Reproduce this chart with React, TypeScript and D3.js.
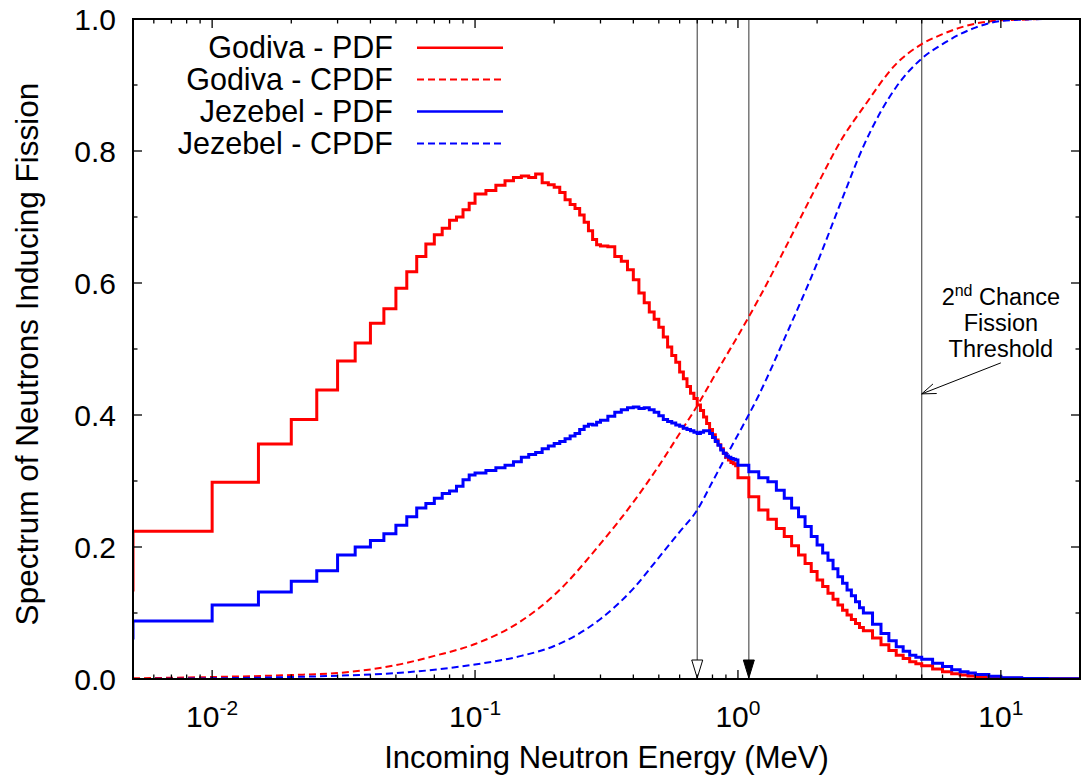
import React from "react";
import * as d3 from "d3";

// ---------- data ----------
// lower bin edges (MeV) of the fission-inducing spectra; last bin ends at binEnd
const binEdges = [
  0.004, 0.005, 0.01, 0.015, 0.02, 0.025, 0.03, 0.035, 0.04, 0.045, 0.05, 0.055, 0.06, 0.065, 0.07, 0.075, 0.08, 0.085, 0.09, 0.095,
  0.10, 0.11, 0.12, 0.13, 0.14, 0.15, 0.16, 0.17, 0.18, 0.19, 0.20, 0.21, 0.22, 0.23, 0.24, 0.25, 0.26, 0.27, 0.28, 0.29,
  0.30, 0.32, 0.34, 0.36, 0.38, 0.40, 0.42, 0.44, 0.46, 0.48, 0.50, 0.52, 0.54, 0.56, 0.58, 0.60, 0.62, 0.64, 0.66, 0.68,
  0.70, 0.72, 0.74, 0.76, 0.78, 0.80, 0.82, 0.84, 0.86, 0.88, 0.90, 0.92, 0.94, 0.96, 0.98,
  1.0, 1.1, 1.2, 1.3, 1.4, 1.5, 1.6, 1.7, 1.8, 1.9, 2.0, 2.1, 2.2, 2.3, 2.4, 2.5, 2.6, 2.7, 2.8, 2.9,
  3.0, 3.25, 3.5, 3.75, 4.0, 4.25, 4.5, 4.75,
  5.0, 5.5, 6.0, 6.5, 7.0, 7.5, 8.0, 9.0, 10, 12, 15,
];
const binEnd = 20;

const godivaPdf = [
  0.135, 0.224, 0.298, 0.356, 0.393, 0.438, 0.482, 0.509, 0.539, 0.561, 0.592, 0.617, 0.640, 0.659, 0.673, 0.683, 0.695, 0.700, 0.711, 0.721,
  0.735, 0.740, 0.748, 0.755, 0.760, 0.762, 0.760, 0.765, 0.752, 0.749, 0.745, 0.737, 0.726, 0.719, 0.713, 0.703, 0.692, 0.679, 0.666, 0.658,
  0.656, 0.655, 0.640, 0.633, 0.620, 0.605, 0.585, 0.570, 0.556, 0.545, 0.533, 0.518, 0.503, 0.490, 0.480, 0.465, 0.455, 0.443, 0.433, 0.425,
  0.415, 0.407, 0.397, 0.387, 0.378, 0.370, 0.362, 0.355, 0.349, 0.342, 0.336, 0.332, 0.328, 0.326, 0.323,
  0.305, 0.276, 0.256, 0.242, 0.228, 0.216, 0.202, 0.188, 0.175, 0.163, 0.150, 0.140, 0.130, 0.121, 0.112, 0.104, 0.097, 0.090, 0.084, 0.078,
  0.073, 0.062, 0.052, 0.043, 0.036, 0.031, 0.026, 0.023,
  0.020, 0.015, 0.011, 0.008, 0.006, 0.0045, 0.0035, 0.002, 0.001, 0.0005, 0.0002,
];

const jezebelPdf = [
  0.062, 0.088, 0.112, 0.132, 0.148, 0.164, 0.188, 0.200, 0.210, 0.220, 0.233, 0.246, 0.259, 0.266, 0.274, 0.281, 0.285, 0.292, 0.302, 0.309,
  0.312, 0.316, 0.320, 0.324, 0.329, 0.336, 0.340, 0.343, 0.349, 0.353, 0.357, 0.360, 0.364, 0.368, 0.372, 0.378, 0.383, 0.386, 0.385, 0.389,
  0.392, 0.398, 0.404, 0.408, 0.411, 0.412, 0.410, 0.411, 0.408, 0.404, 0.399, 0.393, 0.390, 0.388, 0.385, 0.383, 0.380, 0.378, 0.376, 0.374,
  0.372, 0.374, 0.376, 0.376, 0.372, 0.366, 0.360, 0.354, 0.347, 0.342, 0.338, 0.336, 0.334, 0.333, 0.332,
  0.324, 0.314, 0.305, 0.299, 0.286, 0.274, 0.259, 0.246, 0.231, 0.216, 0.203, 0.191, 0.180, 0.167, 0.155, 0.145, 0.135, 0.126, 0.117, 0.108,
  0.100, 0.083, 0.069, 0.058, 0.049, 0.042, 0.036, 0.033,
  0.030, 0.024, 0.019, 0.014, 0.011, 0.009, 0.007, 0.004, 0.002, 0.0008, 0.0003,
];

const cpdfEnergies = [0.005, 0.01, 0.02, 0.03, 0.05, 0.07, 0.1, 0.15, 0.2, 0.3, 0.4, 0.5, 0.6, 0.7, 0.8, 0.9, 1.0, 1.2, 1.5, 2, 2.5, 3, 4, 5, 6, 7, 8, 10, 12, 15, 20];
const godivaCpdf = [0.001, 0.003, 0.006, 0.009, 0.021, 0.035, 0.053, 0.088, 0.127, 0.205, 0.268, 0.323, 0.372, 0.414, 0.454, 0.489, 0.52, 0.576, 0.65, 0.748, 0.82, 0.866, 0.932, 0.962, 0.977, 0.987, 0.993, 0.998, 0.999, 1.0, 1.0];
const jezebelCpdf = [0.0, 0.001, 0.003, 0.005, 0.009, 0.014, 0.022, 0.035, 0.05, 0.091, 0.137, 0.184, 0.223, 0.256, 0.299, 0.337, 0.37, 0.43, 0.515, 0.63, 0.729, 0.807, 0.897, 0.94, 0.962, 0.977, 0.987, 0.997, 0.999, 1.0, 1.0];

const xMajorTicks = [0.01, 0.1, 1, 10];
const xTickExponents = ["-2", "-1", "0", "1"];
const yMajorTicks = [0, 0.2, 0.4, 0.6, 0.8, 1.0];
const yMinorTicks = [0.1, 0.3, 0.5, 0.7, 0.9];
const yTickLabels = ["0.0", "0.2", "0.4", "0.6", "0.8", "1.0"];

const openArrowEnergy = 0.7;
const filledArrowEnergy = 1.1;
const thresholdEnergy = 5.0;
const annotationEnergy = 10;
const annotationLines = [0.566, 0.527, 0.488];
const annotationArrowFrom = [10, 0.479];
const annotationArrowTo = [5.0, 0.432];

const legendItems = [
  { label: "Godiva - PDF", color: "#ff0000", dash: "" },
  { label: "Godiva - CPDF", color: "#ff0000", dash: "7,4" },
  { label: "Jezebel - PDF", color: "#0000ff", dash: "" },
  { label: "Jezebel - CPDF", color: "#0000ff", dash: "7,4" },
];

// ---------- layout ----------
const W = 1082;
const H = 779;
const L = 133, R = 1080, T = 19, B = 679;
const FONT = "'Liberation Sans', Arial, Helvetica, sans-serif";

export default function App() {
  const x = d3.scaleLog().domain([0.005, 20]).range([L, R]);
  const y = d3.scaleLinear().domain([0, 1]).range([B, T]);

  const stepLine = d3
    .line<[number, number]>()
    .x((d) => x(d[0]))
    .y((d) => y(d[1]))
    .curve(d3.curveStepAfter);

  const smoothLine = d3
    .line<[number, number]>()
    .x((d) => x(d[0]))
    .y((d) => y(d[1]))
    .curve(d3.curveMonotoneX);

  const stepPts = (vals: number[]): [number, number][] => {
    const pts: [number, number][] = binEdges.map((e, i) => [e, vals[i]]);
    pts.push([binEnd, vals[vals.length - 1]]);
    return pts;
  };

  const godivaStep = stepLine(stepPts(godivaPdf)) || "";
  const jezebelStep = stepLine(stepPts(jezebelPdf)) || "";
  const godivaC = smoothLine(cpdfEnergies.map((e, i) => [e, godivaCpdf[i]] as [number, number])) || "";
  const jezebelC = smoothLine(cpdfEnergies.map((e, i) => [e, jezebelCpdf[i]] as [number, number])) || "";

  const xMinor: number[] = [];
  for (let p = -3; p <= 1; p++) {
    for (let k = 2; k <= 9; k++) {
      const v = k * Math.pow(10, p);
      if (v > 0.005 && v < 20) xMinor.push(v);
    }
  }

  const majorLen = 9;
  const minorLen = 4.5;

  const arrowHead = (e: number, filled: boolean) => {
    const cx = x(e);
    const tipY = B - 1;
    const hl = 18, hw = 5.5;
    return (
      <path
        d={`M${cx},${tipY} L${cx - hw},${tipY - hl} L${cx + hw},${tipY - hl} Z`}
        fill={filled ? "#000" : "#fff"}
        stroke="#000"
        strokeWidth={1}
      />
    );
  };

  // annotation arrow
  const ax0 = x(annotationArrowFrom[0]);
  const ay0 = y(annotationArrowFrom[1]);
  const ax1 = x(annotationArrowTo[0]);
  const ay1 = y(annotationArrowTo[1]);
  const ang = Math.atan2(ay1 - ay0, ax1 - ax0);
  const hlen = 15;
  const hang = (20 * Math.PI) / 180;
  const h1 = [ax1 - hlen * Math.cos(ang - hang), ay1 - hlen * Math.sin(ang - hang)];
  const h2 = [ax1 - hlen * Math.cos(ang + hang), ay1 - hlen * Math.sin(ang + hang)];

  const legendY0 = 47.7;
  const legendDY = 31.9;

  return (
    <svg
      width={W}
      height={H}
      viewBox={`0 0 ${W} ${H}`}
      style={{ position: "absolute", left: 0, top: 0, background: "#fff" }}
      fontFamily={FONT}
    >
      <defs>
        <clipPath id="plotClip">
          <rect x={L} y={T - 2} width={R - L} height={B - T + 2} />
        </clipPath>
      </defs>
      <rect x={0} y={0} width={W} height={H} fill="#fff" />

      {/* vertical reference lines */}
      {[openArrowEnergy, filledArrowEnergy, thresholdEnergy].map((e, i) => (
        <line key={i} x1={x(e)} x2={x(e)} y1={T} y2={B - 1} stroke="#555" strokeWidth={1.2} />
      ))}
      {arrowHead(openArrowEnergy, false)}
      {arrowHead(filledArrowEnergy, true)}

      {/* curves */}
      <g clipPath="url(#plotClip)" fill="none">
        <path d={godivaC} stroke="#ff0000" strokeWidth={2} strokeDasharray="7,4" />
        <path d={jezebelC} stroke="#0000ff" strokeWidth={2} strokeDasharray="7,4" />
        <path d={godivaStep} stroke="#ff0000" strokeWidth={3} strokeLinejoin="miter" />
        <path d={jezebelStep} stroke="#0000ff" strokeWidth={3} strokeLinejoin="miter" />
      </g>

      {/* border */}
      <rect x={L} y={T} width={R - L} height={B - T} fill="none" stroke="#000" strokeWidth={2} />

      {/* ticks */}
      <g stroke="#000" strokeWidth={1.3}>
        {xMajorTicks.map((t, i) => (
          <g key={"xm" + i}>
            <line x1={x(t)} x2={x(t)} y1={B} y2={B - majorLen} />
            <line x1={x(t)} x2={x(t)} y1={T} y2={T + majorLen} />
          </g>
        ))}
        {xMinor.map((t, i) => (
          <g key={"xn" + i}>
            <line x1={x(t)} x2={x(t)} y1={B} y2={B - minorLen} />
            <line x1={x(t)} x2={x(t)} y1={T} y2={T + minorLen} />
          </g>
        ))}
        {yMajorTicks.map((t, i) => (
          <g key={"ym" + i}>
            <line x1={L} x2={L + majorLen} y1={y(t)} y2={y(t)} />
            <line x1={R} x2={R - majorLen} y1={y(t)} y2={y(t)} />
          </g>
        ))}
        {yMinorTicks.map((t, i) => (
          <g key={"yn" + i}>
            <line x1={L} x2={L + minorLen} y1={y(t)} y2={y(t)} />
            <line x1={R} x2={R - minorLen} y1={y(t)} y2={y(t)} />
          </g>
        ))}
      </g>

      {/* tick labels */}
      <g fontSize={30} fill="#000">
        {xMajorTicks.map((t, i) => (
          <text key={"xl" + i} x={x(t)} y={727} textAnchor="middle">
            <tspan>10</tspan>
            <tspan dy={-12} fontSize={21}>{xTickExponents[i]}</tspan>
          </text>
        ))}
        {yMajorTicks.map((t, i) => (
          <text key={"yl" + i} x={116} y={y(t) + 11} textAnchor="end">
            {yTickLabels[i]}
          </text>
        ))}
      </g>

      {/* axis titles */}
      <text x={(L + R) / 2} y={768} textAnchor="middle" fontSize={31}>
        Incoming Neutron Energy (MeV)
      </text>
      <text
        transform={`translate(38, ${(T + B) / 2 + 5}) rotate(-90)`}
        textAnchor="middle"
        fontSize={31.5}
      >
        Spectrum of Neutrons Inducing Fission
      </text>

      {/* legend */}
      {legendItems.map((it, i) => {
        const cy = legendY0 + i * legendDY;
        return (
          <g key={"lg" + i}>
            <text x={393} y={cy + 10.5} textAnchor="end" fontSize={30.5}>
              {it.label}
            </text>
            <line
              x1={417}
              x2={503}
              y1={cy}
              y2={cy}
              stroke={it.color}
              strokeWidth={it.dash ? 2 : 2.6}
              strokeDasharray={it.dash || undefined}
            />
          </g>
        );
      })}

      {/* annotation */}
      <g fontSize={23.5} textAnchor="middle">
        <text x={x(annotationEnergy)} y={y(annotationLines[0])}>
          2<tspan dy={-9} fontSize={16}>nd</tspan>
          <tspan dy={9}> Chance</tspan>
        </text>
        <text x={x(annotationEnergy)} y={y(annotationLines[1])}>Fission</text>
        <text x={x(annotationEnergy)} y={y(annotationLines[2])}>Threshold</text>
      </g>
      <g stroke="#000" strokeWidth={1} fill="none">
        <line x1={ax0} y1={ay0} x2={ax1} y2={ay1} />
        <polyline points={`${h1[0]},${h1[1]} ${ax1},${ay1} ${h2[0]},${h2[1]}`} />
      </g>
    </svg>
  );
}
